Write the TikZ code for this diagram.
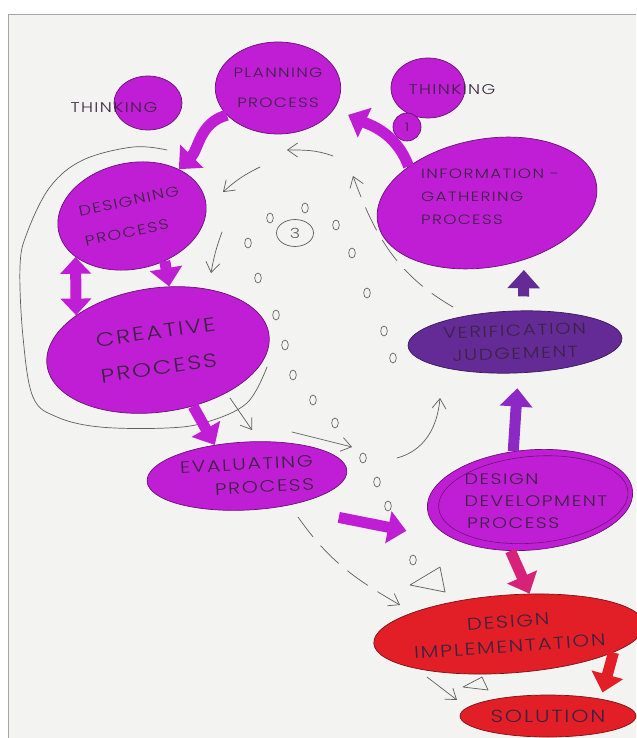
\documentclass[tikz,border=0pt]{standalone}
\usepackage{fontspec}
\newfontfamily\handfont{Poppins Light}[FakeStretch=1.25, LetterSpace=10]
\usetikzlibrary{arrows.meta,shapes.geometric}
\def\hand#1#2{\handfont\fontsize{#1}{#2}\selectfont}

\definecolor{paper}{RGB}{243,243,242}
\definecolor{procfill}{RGB}{192,30,212}
\definecolor{procedge}{RGB}{105,20,115}
\definecolor{judgefill}{RGB}{100,42,150}
\definecolor{implfill}{RGB}{226,30,38}
\definecolor{impledge}{RGB}{120,20,25}
\definecolor{ink}{RGB}{58,36,66}
\definecolor{pencil}{RGB}{95,95,95}
\definecolor{violetarrow}{RGB}{140,40,195}
\definecolor{rosearrow}{RGB}{214,34,120}

\tikzset{
	blob/.style={ellipse, draw=procedge, fill=procfill, line width=0.6pt, inner sep=0pt, text=ink},
	judge/.style={blob, fill=judgefill, draw=judgefill!60!black},
	impl/.style={blob, fill=implfill, draw=impledge},
	writing/.style={text=ink, inner sep=1pt},
	bigarrow/.style={line width=0.33cm, draw=procfill, -{Triangle[length=0.55cm,width=0.95cm]}},
	bothways/.style={{Triangle[length=0.5cm,width=0.9cm]}-{Triangle[length=0.5cm,width=0.9cm]}},
	sketch/.style={draw=pencil, line width=0.6pt, line cap=round},
	sketcharrow/.style={sketch, -{Straight Barb[length=0.3cm,width=0.42cm]}},
	sketchdash/.style={sketcharrow, dash pattern=on 0.75cm off 0.35cm},
	bubble/.style={draw=pencil, line width=0.55pt},
}

\begin{document}
\begin{tikzpicture}[x=0.03cm, y=-0.03cm]
		%%%%% START %%%%%
		\useasboundingbox (0,0) rectangle (636,738);
		
		\fill[paper] (8,14) rectangle (636,738);
		\draw[gray!70, line width=0.8pt] (636,14) -- (8,14) -- (8,738);
		
		% the loop round designing and creative
		\draw[sketch] plot[smooth, tension=0.6] coordinates {(267,367) (247,403) (207,422) (167,428) (100,427) (57,417) (33,397) (23,337) (20,267) (27,233) (50,187) (83,160) (133,147) (167,150)};
		
		% thinking bubbles
		\node[blob, minimum width=2.04cm, minimum height=1.62cm] (thinkleft) at (148,103) {};
		\node[writing, font=\hand{12}{14}] (thinkleftlabel) at (114,108) {THINKING};
		\node[blob, minimum width=2.22cm, minimum height=1.8cm] (thinkright) at (428,88) {};
		\node[writing, font=\hand{12}{14}] (thinkrightlabel) at (452,90) {THINKING};
		\node[blob, minimum size=0.84cm, font=\hand{10}{12}] (one) at (407,127) {1};
		
		% processes
		\node[blob, minimum width=3.48cm, minimum height=2.76cm, align=center, font=\hand{11.5}{26}] (planning) at (278,88) {PLANNING\\PROCESS};
		\node[blob, rotate=10, minimum width=6.66cm, minimum height=3.84cm] (information) at (487,203) {};
		\node[writing, align=left, font=\hand{11.5}{19.5}] (informationtext) at (490,197) {INFORMATION -\\GATHERING\\PROCESS};
		\node[blob, rotate=12, minimum width=4.5cm, minimum height=3.18cm, align=left, font=\hand{12}{26}] (designing) at (132,216) {DESIGNING\\PROCESS};
		\node[blob, rotate=8, minimum width=6.72cm, minimum height=3.72cm, align=left, font=\hand{16.5}{31}] (creative) at (158,350) {CREATIVE\\PROCESS};
		\node[blob, rotate=3, minimum width=6cm, minimum height=2.04cm, align=right, font=\hand{14}{20}] (evaluating) at (247,476) {EVALUATING\\PROCESS};
		\node[judge, rotate=2, minimum width=6.42cm, minimum height=1.86cm, align=center, font=\hand{13.5}{19.5}] (verification) at (515,342) {VERIFICATION\\JUDGEMENT};
		\node[blob, rotate=5, minimum width=6.18cm, minimum height=3cm] (development) at (530,500) {};
		\draw[procedge, line width=0.5pt, rotate around={5:(development.center)}] ([xshift=0.1cm]development.center) ellipse (2.85cm and 1.3cm);
		\node[writing, align=left, font=\hand{13}{19}] (developmenttext) at (536,501) {DESIGN\\DEVELOPMENT\\\,PROCESS};
		\node[impl, rotate=4, minimum width=7.44cm, minimum height=2.34cm, align=center, font=\hand{14.5}{21}] (implementation) at (509,634) {DESIGN\\IMPLEMENTATION};
		\node[impl, minimum width=5.28cm, minimum height=1.26cm, font=\hand{15}{18}] (solution) at (548,716) {SOLUTION};
		
		% the spiral of thought
		\node[ellipse, draw=pencil, line width=0.6pt, minimum width=1.11cm, minimum height=0.81cm, inner sep=0pt, font=\hand{12}{14}, text=pencil] (three) at (295,233) {3};
		\foreach \pos in {(248,243),(258,278),(276,315),(285,345),(293,375),(313,400),(335,423),(270,218),(305,208),(336,225),(352,253),(367,293),(384,331),(393,358),(363,458),(377,482),(388,506),(413,560)}
			\draw[bubble] \pos ellipse (0.1cm and 0.15cm);
		\draw[sketch, line join=round] (410,585) -- (440,567) -- (445,592) -- cycle;
		\draw[sketch, line join=round] (463,687) -- (482,677) -- (488,690) -- cycle;
		
		% thick arrows
		\draw[bigarrow] (planning.208) to[out=195,in=45] (designing.33);
		\draw[bigarrow, shorten >=0.45cm] (information.145) to[out=110,in=-25] (planning.-20);
		\draw[bigarrow, bothways] (designing.204) -- (creative.149);
		\draw[bigarrow] (designing.-66) -- (creative.72);
		\draw[bigarrow] (creative.-66) -- (evaluating.133);
		\draw[bigarrow, shorten <=1.7cm, shorten >=1.6cm] (evaluating.-43) -- (development.205);
		\draw[bigarrow, draw=violetarrow, shorten >=0.45cm] (development.104) -- (verification.-86);
		\draw[bigarrow, draw=judgefill, shorten <=0.42cm, shorten >=0.3cm] (verification.73) -- (information.-67);
		\draw[bigarrow, draw=rosearrow] (development.-116) -- (implementation.59);
		\draw[bigarrow, draw=implfill, shorten >=0.2cm] (implementation.-14) -- (solution.18);
		
		% pencil arrows
		\coordinate (p1) at (333,156); \coordinate (q1) at (287,150);
		\coordinate (p2) at (260,167); \coordinate (q2) at (223,192);
		\coordinate (p3) at (222,232); \coordinate (q3) at (211,273);
		\coordinate (p4) at (230,398); \coordinate (q4) at (252,430);
		\coordinate (p5) at (292,432); \coordinate (q5) at (352,447);
		\coordinate (p6) at (397,458); \coordinate (q6) at (440,398);
		\coordinate (p7) at (298,517); \coordinate (q7) at (400,605);
		\coordinate (p8) at (427,677); \coordinate (q8) at (457,700);
		\coordinate (p9) at (453,307); \coordinate (q9) at (353,176);
		\draw[sketcharrow] (p1) to[out=160,in=0] (q1);
		\draw[sketcharrow] (p2) to[bend right=8] (q2);
		\draw[sketcharrow] (p3) to[bend right=5] (q3);
		\draw[sketcharrow] (p4) -- (q4);
		\draw[sketcharrow] (p5) -- (q5);
		\draw[sketcharrow] (p6) to[out=15,in=-95] (q6);
		\draw[sketchdash] (p7) to[out=-55,in=150] (q7);
		\draw[sketcharrow] (p8) -- (q8);
		\draw[sketchdash] (p9) to[out=150,in=-70] (q9);
		
		%%%%% END %%%%%
\end{tikzpicture}
\end{document}
